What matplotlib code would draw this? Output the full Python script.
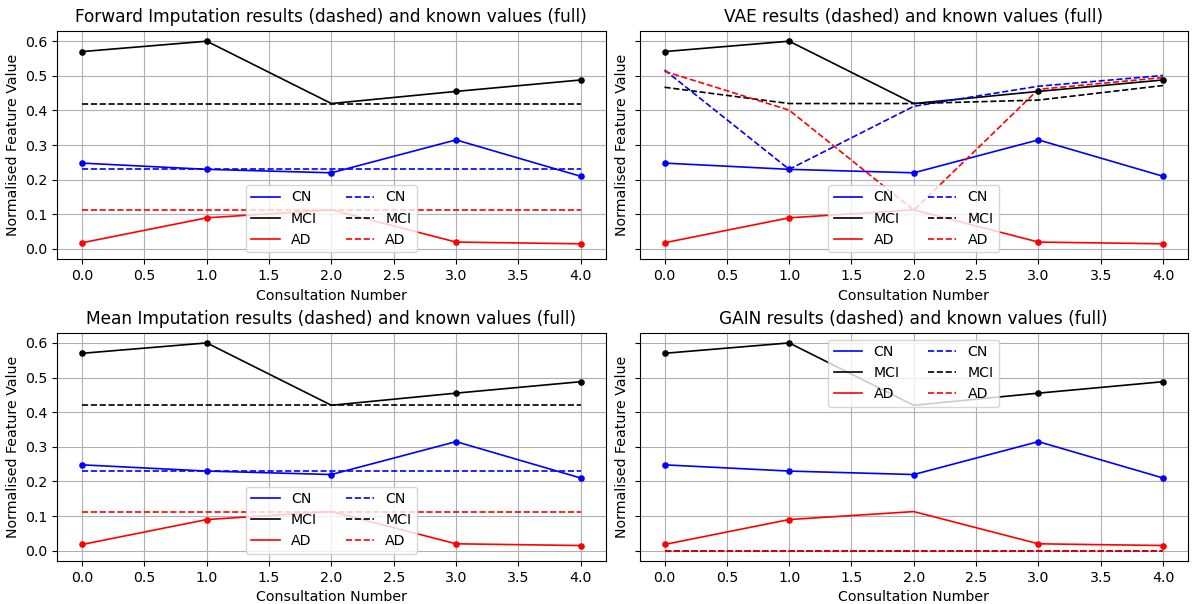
import matplotlib
matplotlib.use('Agg')
from matplotlib import pyplot as plt
import matplotlib.ticker as ticker

visits = [0, 1, 2, 3, 4]
groups = ['CN', 'MCI', 'AD']
colours = {'CN': 'blue', 'MCI': 'black', 'AD': 'red'}

# known values (full lines)
known = {
    'CN': [0.248, 0.230, 0.220, 0.315, 0.210],
    'MCI': [0.570, 0.600, 0.420, 0.455, 0.488],
    'AD': [0.018, 0.090, 0.113, 0.020, 0.015],
}
# which visits were observed (markers)
observed = {
    'CN': [0, 1, 2, 3, 4],
    'MCI': [0, 1, 3, 4],
    'AD': [0, 1, 3, 4],
}

# imputed values (dashed lines)
forward = {
    'CN': [0.230, 0.230, 0.230, 0.230, 0.230],
    'MCI': [0.420, 0.420, 0.420, 0.420, 0.420],
    'AD': [0.113, 0.113, 0.113, 0.113, 0.113],
}
mean_imp = {
    'CN': [0.230, 0.230, 0.230, 0.230, 0.230],
    'MCI': [0.420, 0.420, 0.420, 0.420, 0.420],
    'AD': [0.113, 0.113, 0.113, 0.113, 0.113],
}
vae = {
    'CN': [0.517, 0.230, 0.412, 0.470, 0.501],
    'MCI': [0.467, 0.420, 0.420, 0.430, 0.472],
    'AD': [0.513, 0.401, 0.112, 0.461, 0.495],
}
gain = {
    'CN': [0.0, 0.0, 0.0, 0.0, 0.0],
    'MCI': [0.0, 0.0, 0.0, 0.0, 0.0],
    'AD': [0.0, 0.0, 0.0, 0.0, 0.0],
}

panels = [
    ('Forward Imputation', forward, 'lower center'),
    ('VAE', vae, 'lower center'),
    ('Mean Imputation', mean_imp, 'lower center'),
    ('GAIN', gain, 'upper center'),
]

plt.rcParams['font.size'] = 10.2
fig, axes = plt.subplots(2, 2, sharey=True, figsize=(11.92, 6.04), dpi=100)

for ax, (name, imputed, loc) in zip(axes.flat, panels):
    for g in groups:
        ax.plot(visits, known[g], color=colours[g], lw=1.2, label=g)
    for g in groups:
        ax.plot(visits, imputed[g], color=colours[g], lw=1.2, linestyle='--', label=g)
    for g in groups:
        xs = observed[g]
        ys = [known[g][i] for i in xs]
        ax.scatter(xs, ys, color=colours[g], s=14, zorder=3)
    ax.set_title(f'{name} results (dashed) and known values (full)')
    ax.set_xlabel('Consultation Number')
    ax.set_ylabel('Normalised Feature Value')
    ax.yaxis.set_major_locator(ticker.MultipleLocator(0.1))
    ax.grid(True)
    ax.legend(ncol=2, loc=loc)

plt.subplots_adjust(left=0.048, right=0.9966, top=0.949, bottom=0.071,
                    wspace=0.062, hspace=0.32)
plt.savefig('out.png', dpi=100)
